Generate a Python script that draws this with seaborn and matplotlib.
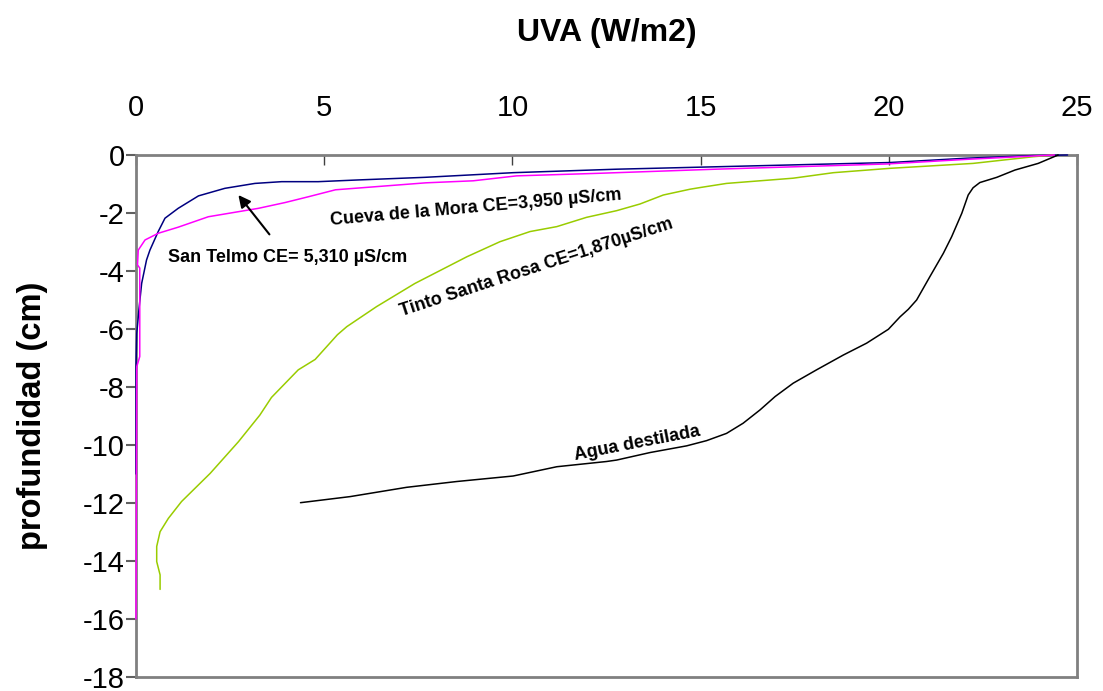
import numpy as np
import pandas as pd
import matplotlib
matplotlib.use("Agg")
import matplotlib.pyplot as plt
import seaborn as sns

# Irradiancia UVA (W/m2) frente a profundidad (cm) para cada agua
blue_uva = [24.75, 23.84, 22.07, 20.03, 14.98, 12.77, 10.02, 7.68, 5.91, 4.84, 3.87,
            3.16, 2.36, 1.66, 1.12, 0.77, 0.59, 0.37, 0.28, 0.15, 0.08, 0.02, 0.0, 0.0]
blue_prof = [0.0, -0.02, -0.11, -0.26, -0.42, -0.49, -0.61, -0.77, -0.86, -0.92, -0.92,
             -0.98, -1.15, -1.41, -1.84, -2.18, -2.64, -3.28, -3.62, -4.43, -5.3, -6.15, -7.3, -11.0]

magenta_uva = [24.4, 22.07, 19.94, 15.4, 12.33, 10.11, 8.96, 7.7, 5.3, 4.58, 3.96, 3.25,
               1.92, 1.12, 0.59, 0.24, 0.06, 0.04, 0.1, 0.1, 0.02, 0.0]
magenta_prof = [0.0, -0.15, -0.31, -0.49, -0.63, -0.72, -0.89, -0.96, -1.2, -1.44, -1.64, -1.84,
                -2.13, -2.49, -2.7, -2.93, -3.28, -3.79, -3.9, -6.95, -7.3, -16.0]

green_uva = [24.37, 23.84, 22.24, 20.03, 18.53, 17.46, 15.69, 15.0, 14.72, 14.01, 13.39,
             12.77, 11.97, 11.18, 10.47, 9.67, 8.79, 7.41, 6.39, 5.6, 5.35, 4.76, 4.31,
             3.6, 3.29, 2.72, 1.97, 1.21, 0.86, 0.64, 0.55, 0.55, 0.64, 0.64]
green_prof = [0.0, -0.06, -0.29, -0.46, -0.61, -0.8, -0.98, -1.12, -1.18, -1.38, -1.69,
              -1.92, -2.15, -2.47, -2.64, -2.99, -3.51, -4.43, -5.23, -5.92, -6.2, -7.05, -7.41,
              -8.36, -8.97, -9.89, -10.98, -11.95, -12.53, -12.99, -13.5, -14.02, -14.48, -14.98]

black_uva = [24.5, 23.97, 23.35, 22.87, 22.42, 22.24, 22.11, 21.94, 21.67, 21.45, 21.09,
             20.74, 20.52, 20.3, 19.99, 19.41, 18.79, 18.08, 17.46, 16.98, 16.58, 16.13,
             15.69, 15.16, 14.63, 13.66, 12.77, 12.5, 11.18, 10.02, 8.52, 7.19, 5.69, 4.37]
black_prof = [0.0, -0.29, -0.52, -0.77, -0.95, -1.13, -1.38, -2.01, -2.82, -3.39, -4.2,
              -5.0, -5.32, -5.58, -6.01, -6.49, -6.9, -7.41, -7.87, -8.33, -8.79, -9.25,
              -9.6, -9.85, -10.03, -10.26, -10.52, -10.57, -10.75, -11.07, -11.26, -11.46, -11.78, -11.99]

series_names = ["San Telmo", "Tinto Santa Rosa", "Agua destilada", "Cueva de la Mora"]
series_colors = ["#000080", "#99CC00", "#000000", "#FF00FF"]

x_ticks = [0, 5, 10, 15, 20, 25]
y_ticks = [-18, -16, -14, -12, -10, -8, -6, -4, -2, 0]

frames = []
for name, xs, ys in zip(series_names,
                        [blue_uva, green_uva, black_uva, magenta_uva],
                        [blue_prof, green_prof, black_prof, magenta_prof]):
    frames.append(pd.DataFrame({"uva": xs, "prof": ys, "serie": name,
                                "orden": np.arange(len(xs))}))
df = pd.concat(frames, ignore_index=True)

sns.set_theme(style="white")
plt.rcParams["font.family"] = ["Liberation Sans", "DejaVu Sans"]
plt.rcParams["axes.unicode_minus"] = False
plt.rcParams["text.color"] = "black"
plt.rcParams["axes.labelcolor"] = "black"
plt.rcParams["xtick.color"] = "black"
plt.rcParams["ytick.color"] = "black"

fig = plt.figure(figsize=(11.03, 6.91), dpi=100)
ax = fig.add_axes([0.1233, 0.0203, 0.8531, 0.7554])

sns.lineplot(data=df, x="uva", y="prof", hue="serie", hue_order=series_names,
             palette=series_colors, sort=False, estimator=None, units="serie",
             linewidth=1.1, legend=False, ax=ax)
# curves sit on top of the frame so the segments along x = 0 stay visible
for line in ax.get_lines():
    line.set_zorder(3)
    line.set_clip_on(False)

ax.set_xlim(0, 25)
ax.set_ylim(-18, 0)
ax.set_xticks(x_ticks)
ax.set_yticks(y_ticks)
ax.xaxis.tick_top()
ax.xaxis.set_label_position("top")

for side in ["top", "bottom", "left", "right"]:
    ax.spines[side].set_visible(True)
    ax.spines[side].set_color("#808080")
    ax.spines[side].set_linewidth(2.0)

ax.tick_params(axis="x", direction="in", length=7, width=1.0, color="#404040",
               labelsize=21, pad=24, top=True, bottom=False, labelcolor="black")
ax.tick_params(axis="y", direction="out", length=7, width=1.5, color="#606060",
               labelsize=21, pad=1, left=True, labelcolor="black")

ax.set_xlabel("UVA (W/m2)", fontsize=23, fontweight="bold", labelpad=38, color="black")
ax.set_ylabel("profundidad (cm)", fontsize=23.5, fontweight="bold", labelpad=25, color="black")

lab = dict(fontsize=13, fontweight="bold", ha="center", va="center",
           rotation_mode="anchor", color="black")
ax.text(9.03, -1.83, "Cueva de la Mora CE=3,950 µS/cm", rotation=5, **lab)
ax.text(10.63, -3.9, "Tinto Santa Rosa CE=1,870µS/cm", rotation=18, **lab)
ax.text(13.31, -9.93, "Agua destilada", rotation=11, **lab)
ax.annotate("San Telmo CE= 5,310 µS/cm", xy=(2.72, -1.38), xytext=(4.02, -3.52),
            fontsize=13, fontweight="bold", ha="center", va="center", color="black",
            arrowprops=dict(arrowstyle="-|>", color="black", lw=1.5,
                            mutation_scale=18, shrinkA=10, shrinkB=0))

fig.savefig("out.png", dpi=100)
